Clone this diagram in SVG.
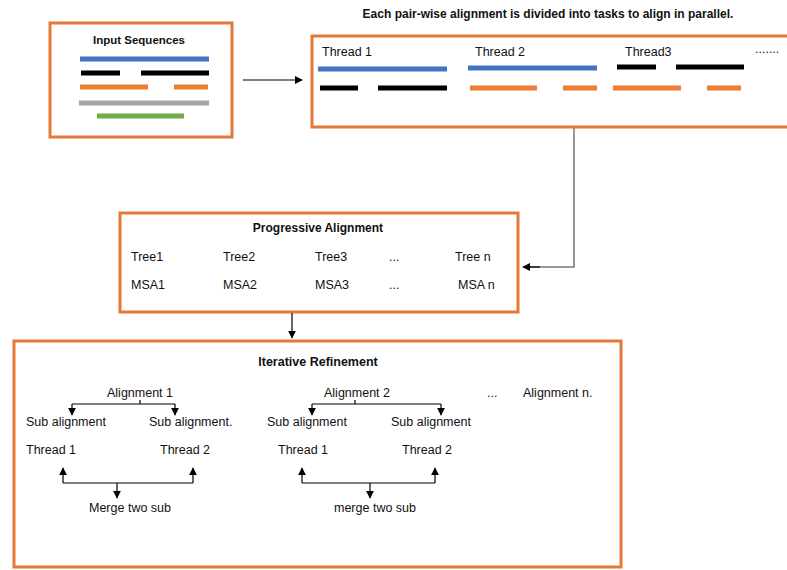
<svg xmlns="http://www.w3.org/2000/svg" width="787" height="570" viewBox="0 0 787 570">
<style>
.box{fill:#fff;stroke:#E47A38;stroke-width:3}
.t{font-family:"Liberation Sans",Arial,sans-serif;font-size:12.5px;fill:#111}
.b{font-family:"Liberation Sans",Arial,sans-serif;font-size:12px;font-weight:bold;fill:#111}
.bar{stroke-width:5;fill:none}
.blue{stroke:#4472C4}.blk{stroke:#000}.org{stroke:#ED7D31}.gry{stroke:#A5A5A5}.grn{stroke:#70AD47}
.c{fill:none;stroke:#000;stroke-width:1.2}
</style>
<defs>
<marker id="ah" viewBox="0 0 10 10" refX="9" refY="5" markerWidth="8" markerHeight="8" orient="auto" markerUnits="userSpaceOnUse">
<path d="M0,0 L10,5 L0,10 z" fill="#000"/>
</marker>
</defs>
<rect width="787" height="570" fill="#fff"/>
<g id="input">
<rect class="box" x="50" y="23" width="182" height="114"/>
<text class="b" x="139" y="44" text-anchor="middle" style="font-size:11.5px">Input  Sequences</text>
<line class="bar blue" x1="80" y1="59" x2="209" y2="59"/>
<line class="bar blk" x1="81" y1="73" x2="120" y2="73"/>
<line class="bar blk" x1="141" y1="73" x2="209" y2="73"/>
<line class="bar org" x1="80" y1="87" x2="148" y2="87"/>
<line class="bar org" x1="174" y1="87" x2="208" y2="87"/>
<line class="bar gry" x1="79" y1="103" x2="209" y2="103"/>
<line class="bar grn" x1="97" y1="116" x2="184" y2="116"/>
</g>
<g id="threads">
<text class="b" x="548" y="18" text-anchor="middle">Each pair-wise alignment is divided into tasks to align in parallel.</text>
<rect class="box" x="312" y="36" width="480" height="91"/>
<text class="t" x="322" y="56">Thread 1</text>
<text class="t" x="475" y="56">Thread 2</text>
<text class="t" x="625" y="56">Thread3</text>
<text class="t" x="755" y="53">.......</text>
<line class="bar blue" x1="318" y1="69" x2="447" y2="69"/>
<line class="bar blue" x1="468" y1="68" x2="597" y2="68"/>
<line class="bar blk" x1="617" y1="67" x2="656" y2="67"/>
<line class="bar blk" x1="676" y1="67" x2="744" y2="67"/>
<line class="bar blk" x1="320" y1="88" x2="358" y2="88"/>
<line class="bar blk" x1="378" y1="88" x2="447" y2="88"/>
<line class="bar org" x1="470" y1="88" x2="537" y2="88"/>
<line class="bar org" x1="563" y1="88" x2="597" y2="88"/>
<line class="bar org" x1="613" y1="88" x2="681" y2="88"/>
<line class="bar org" x1="707" y1="88" x2="741" y2="88"/>
</g>
<g id="progressive">
<rect class="box" x="120" y="213" width="398" height="99"/>
<text class="b" x="318" y="232" text-anchor="middle">Progressive Alignment</text>
<text class="t" x="131" y="261">Tree1</text>
<text class="t" x="223" y="261">Tree2</text>
<text class="t" x="315" y="261">Tree3</text>
<text class="t" x="389" y="261">...</text>
<text class="t" x="455" y="261">Tree n</text>
<text class="t" x="131" y="289">MSA1</text>
<text class="t" x="223" y="289">MSA2</text>
<text class="t" x="315" y="289">MSA3</text>
<text class="t" x="389" y="289">...</text>
<text class="t" x="458" y="289">MSA n</text>
</g>
<g id="iterative">
<rect class="box" x="14" y="341" width="607" height="226"/>
<text class="b" x="318" y="366" text-anchor="middle" style="font-size:12.5px">Iterative Refinement</text>
<text class="t" x="140" y="397" text-anchor="middle">Alignment 1</text>
<text class="t" x="26" y="426">Sub alignment</text>
<text class="t" x="149" y="426">Sub alignment.</text>
<text class="t" x="26" y="454">Thread 1</text>
<text class="t" x="160" y="454">Thread 2</text>
<text class="t" x="130" y="512" text-anchor="middle">Merge two sub</text>
<text class="t" x="357" y="397" text-anchor="middle">Alignment 2</text>
<text class="t" x="267" y="426">Sub alignment</text>
<text class="t" x="391" y="426">Sub alignment</text>
<text class="t" x="278" y="454">Thread 1</text>
<text class="t" x="402" y="454">Thread 2</text>
<text class="t" x="375" y="512" text-anchor="middle">merge two sub</text>
<text class="t" x="487" y="397">...</text>
<text class="t" x="523" y="397">Alignment n.</text>
</g>
<g id="connectors">
<line class="c" x1="243" y1="80" x2="302" y2="80" marker-end="url(#ah)"/>
<polyline points="574,128 574,267 523,267" fill="none" stroke="#777" stroke-width="1.5"/>
<line class="c" x1="540" y1="267" x2="523" y2="267" marker-end="url(#ah)"/>
<line class="c" x1="292" y1="313" x2="292" y2="338" marker-end="url(#ah)"/>
<path class="c" d="M140,400 V404 M72,404 H175"/>
<line class="c" x1="72" y1="404" x2="72" y2="415" marker-end="url(#ah)"/>
<line class="c" x1="175" y1="404" x2="175" y2="415" marker-end="url(#ah)"/>
<path class="c" d="M63,483 H193"/>
<line class="c" x1="63" y1="483" x2="63" y2="468" marker-end="url(#ah)"/>
<line class="c" x1="193" y1="483" x2="193" y2="468" marker-end="url(#ah)"/>
<line class="c" x1="117" y1="483" x2="117" y2="498" marker-end="url(#ah)"/>
<path class="c" d="M355,400 V404 M312,404 H441"/>
<line class="c" x1="312" y1="404" x2="312" y2="415" marker-end="url(#ah)"/>
<line class="c" x1="441" y1="404" x2="441" y2="415" marker-end="url(#ah)"/>
<path class="c" d="M302,483 H435"/>
<line class="c" x1="302" y1="483" x2="302" y2="468" marker-end="url(#ah)"/>
<line class="c" x1="435" y1="483" x2="435" y2="468" marker-end="url(#ah)"/>
<line class="c" x1="370" y1="483" x2="370" y2="498" marker-end="url(#ah)"/>
</g>
</svg>
